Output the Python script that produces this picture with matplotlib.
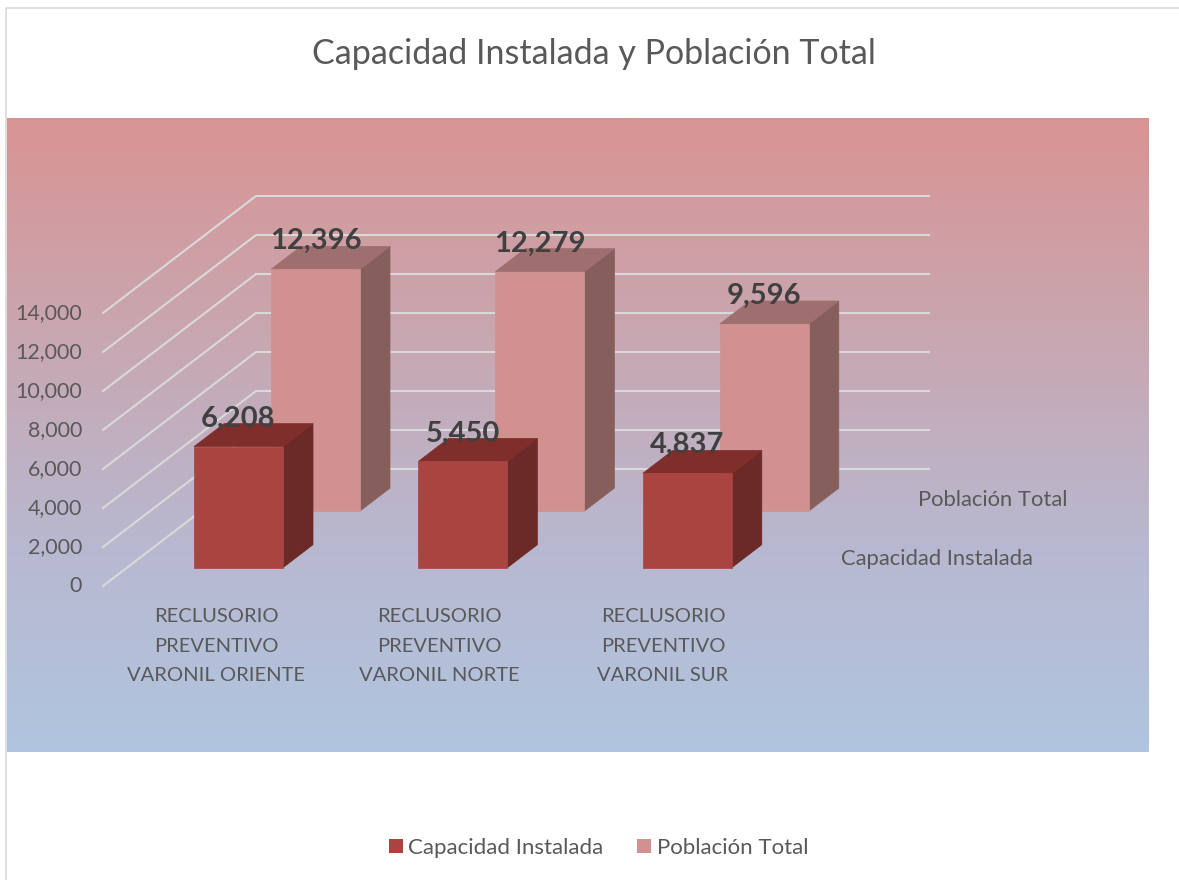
from matplotlib import pyplot as plt
from matplotlib.colors import LinearSegmentedColormap
from matplotlib.patches import Patch, Polygon
from matplotlib.lines import Line2D
import numpy as np

categories = ['RECLUSORIO\nPREVENTIVO\nVARONIL ORIENTE',
              'RECLUSORIO\nPREVENTIVO\nVARONIL NORTE',
              'RECLUSORIO\nPREVENTIVO\nVARONIL SUR']
capacidad = [6208, 5450, 4837]
poblacion = [12396, 12279, 9596]
y_ticks = [0, 2000, 4000, 6000, 8000, 10000, 12000, 14000]

plt.rcParams['font.family'] = ['Lato', 'DejaVu Sans']

W, H = 1179, 880
PANEL = (7, 118, 1149, 752)      # left, top, right, bottom in pixels
PX_PER_UNIT = 273 / 14000        # vertical scale of the value axis
FLOOR_Y = 586                    # pixel row of value 0 at the front of the floor
SLOPE = 117 / 153                # rise of the oblique depth direction

TEXT = '#595959'
LABEL = '#404040'
GRID = '#d9d9d9'


def oblique(x, depth, value):
    # x in pixels, depth along the floor in pixels, value in chart units
    return x + depth, value + depth * SLOPE / PX_PER_UNIT


def draw_bar(ax, x, depth, value, colors):
    width, thick = 89, 30
    front = [oblique(x, depth, 0), oblique(x + width, depth, 0),
             oblique(x + width, depth, value), oblique(x, depth, value)]
    side = [oblique(x + width, depth, 0), oblique(x + width, depth + thick, 0),
            oblique(x + width, depth + thick, value), oblique(x + width, depth, value)]
    top = [oblique(x, depth, value), oblique(x + width, depth, value),
           oblique(x + width, depth + thick, value), oblique(x, depth + thick, value)]
    ax.add_patch(Polygon(side, facecolor=colors[1], edgecolor=colors[1], lw=0.5, zorder=3))
    ax.add_patch(Polygon(top, facecolor=colors[2], edgecolor=colors[2], lw=0.5, zorder=3))
    ax.add_patch(Polygon(front, facecolor=colors[0], edgecolor=colors[0], lw=0.5, zorder=3))
    lx, ly = oblique(x + width / 2, depth, value)
    ax.text(lx, ly + 28 / PX_PER_UNIT, f'{value:,}', ha='center', va='center',
            fontsize=21, fontweight='bold', color=LABEL, zorder=5)


fig = plt.figure(figsize=(W / 100, H / 100), dpi=100)

# chart frame
fig.add_artist(Line2D([6 / W, 6 / W, 1], [0, 1 - 8 / H, 1 - 8 / H], color=GRID, lw=1.2))

ax = fig.add_axes([PANEL[0] / W, 1 - PANEL[3] / H, (PANEL[2] - PANEL[0]) / W, (PANEL[3] - PANEL[1]) / H])
ax.set_xlim(PANEL[0], PANEL[2])
ax.set_ylim((FLOOR_Y - PANEL[3]) / PX_PER_UNIT, (FLOOR_Y - PANEL[1]) / PX_PER_UNIT)
ax.axis('off')

cmap = LinearSegmentedColormap.from_list('panel', ['#d99493', '#c9a6b0', '#b8b8cf', '#b0c5e0'])
ax.imshow(np.linspace(0, 1, 256)[:, None], aspect='auto', cmap=cmap, zorder=0,
          extent=(ax.get_xlim()[0], ax.get_xlim()[1], ax.get_ylim()[0], ax.get_ylim()[1]), origin='upper')

# grid on the left and back walls
wall_depth = 153
wall_right = 673
for v in y_ticks:
    xs, ys = zip(oblique(103, 0, v), oblique(103, wall_depth, v), oblique(103 + wall_right, wall_depth, v))
    ax.plot(xs, ys, color=GRID, lw=1.5, zorder=1, solid_joinstyle='miter')
    ax.text(82, v, f'{v:,}', ha='right', va='center', fontsize=15.4, color=TEXT, zorder=5)

# bars, back row first
for i in range(len(categories)):
    draw_bar(ax, 173 + 224.4 * i, 98, poblacion[i], ('#d19190', '#865f5d', '#9e6f6e'))
for i in range(len(categories)):
    draw_bar(ax, 170 + 224.4 * i, 24, capacidad[i], ('#aa4440', '#6b2927', '#7f2e2c'))

for i, name in enumerate(categories):
    ax.text(216 + 223.5 * i, (FLOOR_Y - 646) / PX_PER_UNIT, name, ha='center', va='center',
            fontsize=14.5, color=TEXT, linespacing=1.86, zorder=5)

# depth axis labels
ax.text(918, (FLOOR_Y - 500) / PX_PER_UNIT, 'Población Total', ha='left', va='center', fontsize=15.8, color=TEXT, zorder=5)
ax.text(841, (FLOOR_Y - 559) / PX_PER_UNIT, 'Capacidad Instalada', ha='left', va='center', fontsize=15.8, color=TEXT, zorder=5)

fig.text(593.5 / W, 1 - 54 / H, 'Capacidad Instalada y Población Total', ha='center', va='center',
         fontsize=24.5, color=TEXT)

handles = [Patch(facecolor='#aa4440', label='Capacidad Instalada'),
           Patch(facecolor='#d19190', label='Población Total')]
fig.legend(handles=handles, loc='center', bbox_to_anchor=(598.5 / W, 1 - 848 / H), ncol=2, frameon=False,
           fontsize=16, labelcolor=TEXT, handlelength=0.63, handleheight=0.63, handletextpad=0.25, columnspacing=1.5)

fig.savefig('out.png', dpi=100, facecolor='white')
